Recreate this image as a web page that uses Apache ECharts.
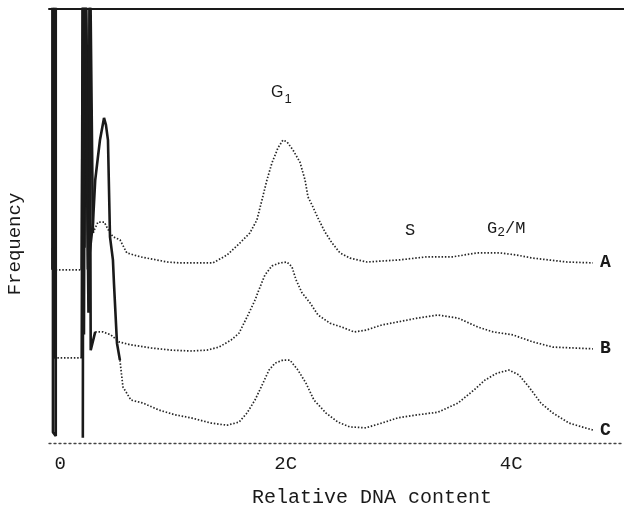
<!DOCTYPE html>
<html>
<head>
<meta charset="utf-8">
<script src="https://cdn.jsdelivr.net/npm/echarts@6/dist/echarts.min.js"></script>
<style>
  html, body { margin: 0; padding: 0; background: #fff; }
  #chart { width: 624px; height: 508px; }
</style>
</head>
<body>
<div id="chart"></div>
<script>
// DNA content (units of C) and frequency.
// each trace sits on its own baseline, so values are on the picture's common scale
var tickValues = [0, 2, 4];
var tickLabels = ['0', '2C', '4C'];
var traceNames = ['A', 'B', 'C'];

// debris spikes near zero, drawn solid ('-' breaks the pen, values over 100 are off scale)
var debrisA = [[-0.07, 110], [-0.07, 39.9], [0.19, '-'], [0.19, 39.9], [0.2, 110], [0.215, 45], [0.225, 110],
  [0.24, 110], [0.255, 50], [0.265, 110], [0.28, 110], [0.29, 48.4]];
var debrisB = [[-0.055, 110], [-0.055, 19.6], [0.19, '-'], [0.19, 19.6], [0.2, 110], [0.21, 25], [0.22, 110],
  [0.235, 110], [0.25, 30], [0.26, 110], [0.27, 21.4], [0.31, 25.6]];
var debrisC = [[-0.065, 45], [-0.065, 2.5], [-0.04, 1.6], [-0.04, 110], [0.2, '-'], [0.2, 1.2], [0.205, 110],
  [0.225, 110], [0.245, 40],
  [0.29, 50.7], [0.31, 60.6], [0.334, 65.9], [0.352, 69.8], [0.388, 74.9], [0.405, 73.3], [0.423, 69.8],
  [0.441, 47.5], [0.467, 42.2], [0.476, 36.9], [0.503, 23.0], [0.529, 19.1]];

// dotted pen trace: shelf left of the spike, then the histogram
var curveA = [[-0.07, 39.9], [0.19, 39.9], [0.19, '-'],
  [0.29, 48.4], [0.334, 50.9], [0.39, 50.9], [0.44, 48.4], [0.47, 47.5], [0.53, 46.8], [0.59, 43.8],
  [0.71, 42.9], [0.95, 41.7], [1.06, 41.5], [1.24, 41.5], [1.354, 41.5], [1.478, 43.3], [1.594, 46.1],
  [1.682, 48.4], [1.744, 51.4], [1.789, 56.0], [1.833, 60.6], [1.877, 64.5], [1.931, 68.0], [1.975, 69.8],
  [2.011, 69.4], [2.064, 67.5], [2.126, 64.7], [2.171, 60.6], [2.197, 56.7], [2.241, 54.4], [2.286, 51.8],
  [2.348, 48.6], [2.41, 46.1], [2.481, 43.8], [2.569, 42.6], [2.72, 41.7], [3.012, 42.2], [3.252, 42.9],
  [3.483, 42.9], [3.696, 43.8], [3.9, 43.8], [4.05, 43.3], [4.192, 42.6], [4.494, 41.7], [4.724, 41.5]];
var curveB = [[-0.055, 19.6], [0.19, 19.6], [0.19, '-'],
  [0.31, 25.6], [0.379, 25.6], [0.45, 24.9], [0.52, 23.3], [0.627, 22.6], [0.804, 21.9],
  [0.982, 21.4], [1.159, 21.2], [1.301, 21.4], [1.408, 22.1], [1.514, 23.7], [1.585, 25.3], [1.656, 29.0],
  [1.727, 32.9], [1.762, 35.3], [1.815, 38.7], [1.877, 40.8], [1.948, 41.5], [2.011, 41.7], [2.055, 40.6],
  [2.091, 37.6], [2.144, 34.6], [2.215, 32.3], [2.286, 29.5], [2.392, 27.6], [2.498, 26.7], [2.605, 25.6],
  [2.711, 26.0], [2.853, 27.2], [2.995, 27.9], [3.172, 28.8], [3.35, 29.5], [3.527, 28.8], [3.705, 26.7],
  [3.838, 25.6], [4.015, 24.9], [4.192, 23.3], [4.369, 22.1], [4.547, 21.9], [4.724, 21.7]];
var curveC = [[0.529, 19.1], [0.556, 12.9], [0.627, 9.9], [0.734, 9.2], [0.875, 7.6], [1.017, 6.5],
  [1.159, 5.8], [1.336, 4.6], [1.478, 4.1], [1.585, 4.8], [1.656, 6.9], [1.727, 9.9], [1.798, 13.8],
  [1.851, 16.8], [1.904, 18.4], [1.975, 19.1], [2.037, 19.1], [2.108, 16.8], [2.179, 13.8], [2.25, 9.9],
  [2.357, 6.9], [2.463, 4.8], [2.569, 3.7], [2.711, 3.5], [2.853, 4.6], [2.995, 5.8], [3.172, 6.5],
  [3.35, 7.1], [3.527, 9.2], [3.669, 12.2], [3.767, 14.5], [3.873, 16.1], [3.979, 16.8], [4.068, 15.7],
  [4.157, 12.9], [4.263, 9.2], [4.369, 6.9], [4.512, 4.6], [4.653, 3.5], [4.724, 3.0]];

var mono = '"Liberation Mono", "DejaVu Sans Mono", monospace';
var ink = '#1a1a1a';

var chart = echarts.init(document.getElementById('chart'));

function debris(data) {
  return {
    type: 'line', data: data, showSymbol: false, silent: true, z: 3,
    lineStyle: { color: ink, width: 2.6 }
  };
}
function trace(name, data) {
  return {
    type: 'line', name: name, data: data, showSymbol: false, silent: true, z: 2,
    lineStyle: { color: '#262626', width: 1.7, type: [1.5, 1.8] },
    endLabel: {
      show: true, formatter: '{a}', distance: 7,
      fontFamily: mono, fontSize: 18, fontWeight: 'bold', color: ink
    }
  };
}

chart.setOption({
  animation: false,
  grid: { left: 49, right: 0, top: 9, bottom: 65 },
  xAxis: [{
    type: 'value', min: -0.1, max: 5.0,
    axisLine: { show: true, lineStyle: { color: '#444', width: 1.3, type: [2, 3] } },
    axisTick: { show: false },
    splitLine: { show: false },
    axisLabel: {
      customValues: tickValues, margin: 11,
      fontFamily: mono, fontSize: 19, color: ink,
      formatter: function (v) { return tickLabels[tickValues.indexOf(v)]; }
    }
  }, {
    type: 'value', position: 'top', min: -0.1, max: 5.0,
    axisLine: { show: true, lineStyle: { color: ink, width: 2 } },
    axisTick: { show: false }, axisLabel: { show: false }, splitLine: { show: false }
  }],
  yAxis: {
    type: 'value', min: 0, max: 100,
    axisLine: { show: false }, axisTick: { show: false },
    axisLabel: { show: false }, splitLine: { show: false }
  },
  series: [
    debris(debrisA), debris(debrisB), debris(debrisC),
    trace(traceNames[0], curveA), trace(traceNames[1], curveB), trace(traceNames[2], curveC)
  ],
  graphic: [
    { type: 'text', x: 15, y: 244, rotation: Math.PI / 2,
      style: { text: 'Frequency', font: '19px ' + mono, fill: ink, align: 'center', verticalAlign: 'middle' } },
    { type: 'text', x: 372, y: 498,
      style: { text: 'Relative DNA content', font: '20px ' + mono, fill: ink, align: 'center', verticalAlign: 'middle' } },
    { type: 'text', x: 271, y: 93,
      style: {
        text: '{g|G}{s|1}', fill: ink, verticalAlign: 'middle',
        rich: {
          g: { fontFamily: '"Liberation Sans", Arial, sans-serif', fontSize: 16, color: ink },
          s: { fontFamily: '"Liberation Sans", Arial, sans-serif', fontSize: 13, color: ink, padding: [12, 0, 0, 1] }
        }
      } },
    { type: 'text', x: 410, y: 230,
      style: { text: 'S', font: '17px ' + mono, fill: ink, align: 'center', verticalAlign: 'middle' } },
    { type: 'text', x: 487, y: 228,
      style: {
        text: '{g|G}{s|2}{g|/M}', fill: ink, verticalAlign: 'middle',
        rich: {
          g: { fontFamily: mono, fontSize: 17, color: ink },
          s: { fontFamily: mono, fontSize: 13, color: ink, padding: [10, 0, 0, 0] }
        }
      } }
  ]
});
</script>
</body>
</html>
